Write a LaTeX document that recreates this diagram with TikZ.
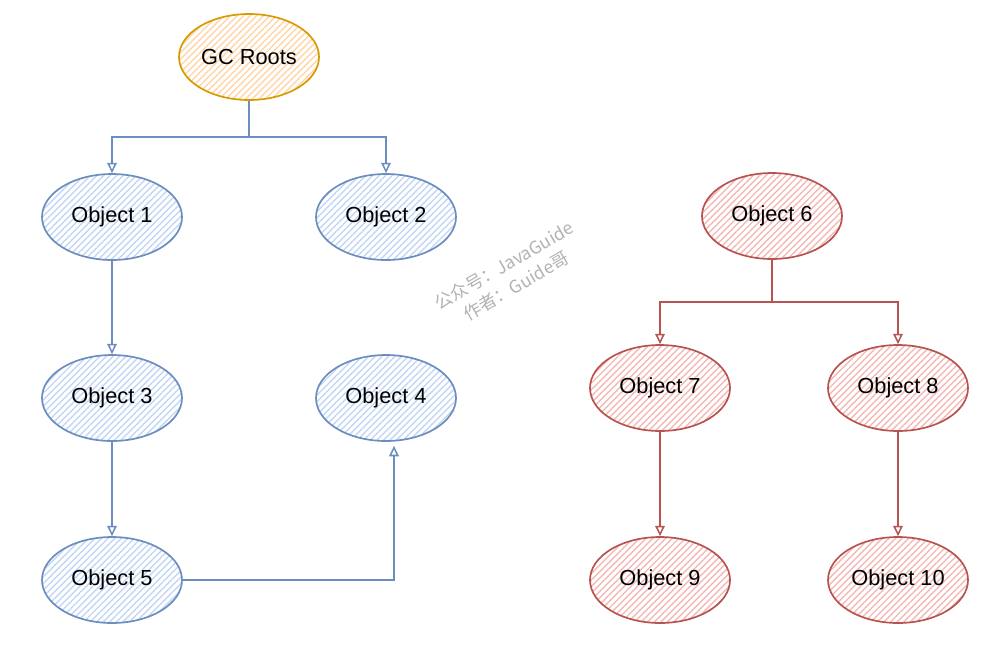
\documentclass[tikz,border=0pt]{standalone}
\usepackage{fontspec}
\setmainfont{Liberation Sans}
\newfontfamily\cjk{Noto Sans CJK SC}
\usetikzlibrary{positioning, shapes.geometric, arrows.meta, patterns.meta}

\definecolor{blueline}{HTML}{6C8EBF}
\definecolor{bluehatch}{HTML}{C2D6F5}
\definecolor{redline}{HTML}{B85450}
\definecolor{redhatch}{HTML}{F2B9B6}
\definecolor{orangeline}{HTML}{D79B00}
\definecolor{orangehatch}{HTML}{FFD5AA}

\begin{document}
\begin{tikzpicture}[
		obj/.style={ellipse, draw=#1line, line width=1.2pt, inner sep=0pt,
			minimum width=3.5cm, minimum height=2.15cm,
			pattern={Lines[angle=45, distance=3.3pt, line width=1pt]}, pattern color=#1hatch,
			font=\fontsize{15.5}{18}\selectfont},
		link/.style={draw=#1line, line width=1.1pt},
		arr/.style={link=#1, -{Triangle[open, length=0.26cm, width=0.24cm, line width=1.1pt]}}
	]
		\useasboundingbox (0, 0) rectangle (24.575, -16.325);
		% reachable part
		\node[obj=orange] (gc) at (6.225, -1.425) {GC Roots};
		\node[obj=blue] (o1) at (2.8, -5.425) {Object 1};
		\node[obj=blue] (o2) at (9.65, -5.425) {Object 2};
		\node[obj=blue] (o3) at (2.8, -9.95) {Object 3};
		\node[obj=blue] (o4) at (9.65, -9.95) {Object 4};
		\node[obj=blue] (o5) at (2.8, -14.5) {Object 5};
		\coordinate (j1) at (6.225, -3.425);
		\draw[link=blue] (gc.south) -- (j1);
		\draw[arr=blue] (j1) -| (o1.north);
		\draw[arr=blue] (j1) -| (o2.north);
		\draw[arr=blue] (o1) -- (o3);
		\draw[arr=blue] (o3) -- (o5);
		\draw[arr=blue, shorten >=0.1cm] (o5.east) -| ([xshift=0.2cm]o4.south);
		% unreachable part
		\node[obj=red] (o6) at (19.3, -5.4) {Object 6};
		\node[obj=red] (o7) at (16.5, -9.7) {Object 7};
		\node[obj=red] (o8) at (22.45, -9.7) {Object 8};
		\node[obj=red] (o9) at (16.5, -14.5) {Object 9};
		\node[obj=red] (o10) at (22.45, -14.5) {Object 10};
		\coordinate (j2) at (19.3, -7.55);
		\draw[link=red] (o6.south) -- (j2);
		\draw[arr=red] (j2) -| (o7.north);
		\draw[arr=red] (j2) -| (o8.north);
		\draw[arr=red] (o7) -- (o9);
		\draw[arr=red] (o8) -- (o10);
		% watermark
		\node[rotate=30, align=center, text=black!30, font=\cjk\fontsize{12.5}{17}\selectfont] (wm) at (12.75, -6.89) {公众号：JavaGuide\\作者：Guide哥};
	\end{tikzpicture}
\end{document}
